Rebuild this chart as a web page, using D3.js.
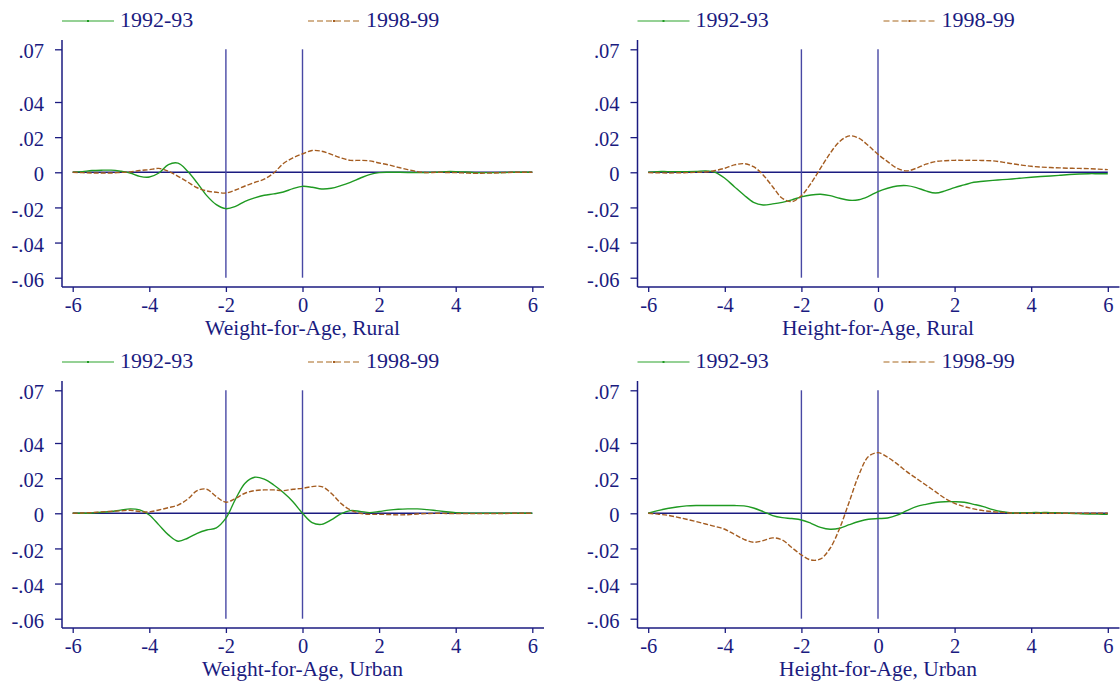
<!DOCTYPE html>
<html>
<head>
<meta charset="utf-8">
<script src="https://cdn.jsdelivr.net/npm/d3@7"></script>
<style>
  body { margin: 0; background: #fff; }
  svg { display: block; }
  text { font-family: "Liberation Serif", "DejaVu Serif", serif; fill: #1b1b80; }
</style>
</head>
<body>
<svg id="chart" width="1120" height="685"></svg>
<script>
// z-score grid (x values read at every quarter unit)
const zScores = [-6, -5.75, -5.5, -5.25, -5, -4.75, -4.5, -4.25, -4, -3.75, -3.5, -3.25, -3,
  -2.75, -2.5, -2.25, -2, -1.75, -1.5, -1.25, -1, -0.75, -0.5, -0.25, 0, 0.25, 0.5, 0.75,
  1, 1.25, 1.5, 1.75, 2, 2.25, 2.5, 2.75, 3, 3.25, 3.5, 3.75, 4, 4.25, 4.5, 4.75, 5, 5.25,
  5.5, 5.75, 6];

const seriesNames = ['1992-93', '1998-99'];
const panelTitles = ['Weight-for-Age, Rural', 'Height-for-Age, Rural',
                     'Weight-for-Age, Urban', 'Height-for-Age, Urban'];

const xTicks = [-6, -4, -2, 0, 2, 4, 6];
const yTicks = [-0.06, -0.04, -0.02, 0, 0.02, 0.04, 0.07];
const cutoffs = [-2, 0];

// Weight-for-Age, Rural
const wfaRural92 = [0, 0.0004, 0.001, 0.0012, 0.0012, 0.0006, -0.0004, -0.0023, -0.0027, -0.0004,
  0.0044, 0.0052, 0.0006, -0.006, -0.0133, -0.0184, -0.0207, -0.0194, -0.0165, -0.0146, -0.0131,
  -0.0123, -0.0112, -0.0093, -0.008, -0.0085, -0.0095, -0.0091, -0.0076, -0.0057, -0.0034,
  -0.0013, -0.0002, 0, 0, -0.0001, -0.0002, -0.0001, 0, 0.0004, 0.0004, 0.0002, -0.0002,
  -0.0002, -0.0002, -0.0001, 0, 0, 0];
const wfaRural98 = [0, -0.0002, -0.0004, -0.0004, -0.0004, -0.0001, 0.0002, 0.001, 0.0015, 0.0022,
  0.0006, -0.0023, -0.0055, -0.0088, -0.0106, -0.0114, -0.0118, -0.0101, -0.0078, -0.0058,
  -0.0039, -0.0004, 0.005, 0.0082, 0.0105, 0.0124, 0.012, 0.0102, 0.0082, 0.0068, 0.0068,
  0.0065, 0.0053, 0.0042, 0.0028, 0.0015, 0.0004, -0.0002, 0, -0.0001, -0.0002, -0.0004,
  -0.0006, -0.0005, -0.0004, -0.0002, 0, 0, 0];

// Height-for-Age, Rural
const hfaRural92 = [0, 0.0004, 0.0004, 0.0004, 0.0004, 0.0005, 0.0008, 0, -0.0034, -0.0082,
  -0.0129, -0.0171, -0.0186, -0.018, -0.0171, -0.0157, -0.014, -0.0129, -0.0125, -0.0133,
  -0.0148, -0.0159, -0.0156, -0.0137, -0.011, -0.0091, -0.0078, -0.0076, -0.0087, -0.0106,
  -0.0118, -0.0106, -0.0087, -0.0072, -0.0057, -0.0051, -0.0046, -0.0042, -0.0038, -0.0033,
  -0.0028, -0.0024, -0.0021, -0.0017, -0.0013, -0.001, -0.0008, -0.0008, -0.0008];
const hfaRural98 = [-0.0002, -0.0003, -0.0004, -0.0003, -0.0002, 0, 0.0002, 0.001, 0.0023, 0.0042,
  0.0049, 0.0032, -0.0015, -0.0082, -0.0148, -0.0167, -0.0133, -0.0063, 0.0023, 0.0108, 0.0175,
  0.0207, 0.0194, 0.0152, 0.0102, 0.0061, 0.0023, 0.0008, 0.0023, 0.0046, 0.0061, 0.0066,
  0.0068, 0.0068, 0.0068, 0.0067, 0.0065, 0.0058, 0.0049, 0.0041, 0.0034, 0.003, 0.0027,
  0.0025, 0.0023, 0.0022, 0.0021, 0.0018, 0.0015];

// Weight-for-Age, Urban
const wfaUrban92 = [0, 0, 0.0002, 0.0006, 0.001, 0.0018, 0.0025, 0.0019, -0.001, -0.0066, -0.0123,
  -0.0159, -0.0142, -0.0114, -0.0095, -0.0083, -0.0028, 0.008, 0.0171, 0.0205, 0.0194, 0.0161,
  0.0118, 0.0066, 0, -0.0053, -0.0063, -0.0038, -0.0004, 0.0015, 0.0011, 0.0004, 0.001, 0.0018,
  0.0023, 0.0025, 0.0025, 0.0021, 0.0015, 0.0009, 0.0004, 0.0001, 0, 0, 0, 0, 0, 0, 0];
const wfaUrban98 = [0, 0.0002, 0.0004, 0.0008, 0.0011, 0.0014, 0.0017, 0.001, 0.0008, 0.0019,
  0.0032, 0.0047, 0.008, 0.0129, 0.0137, 0.0095, 0.0063, 0.0085, 0.0114, 0.0129, 0.0133, 0.0133,
  0.0129, 0.0137, 0.0142, 0.0152, 0.0152, 0.0114, 0.0057, 0.0019, 0, -0.0006, -0.0006, -0.0007,
  -0.0009, -0.0008, -0.0004, -0.0002, 0, -0.0001, -0.0002, -0.0002, -0.0002, -0.0002, -0.0002,
  -0.0001, 0, 0, 0];

// Height-for-Age, Urban
const hfaUrban92 = [0, 0.0015, 0.0027, 0.0036, 0.0042, 0.0044, 0.0044, 0.0044, 0.0044, 0.0044,
  0.0042, 0.003, 0.001, -0.0013, -0.0025, -0.003, -0.0038, -0.0057, -0.008, -0.0091, -0.0085,
  -0.0065, -0.0047, -0.0034, -0.003, -0.0027, -0.0011, 0.0015, 0.0038, 0.0051, 0.0061, 0.0066,
  0.0066, 0.0063, 0.0051, 0.0038, 0.0021, 0.0009, 0.0002, 0.0003, 0.0004, 0.0004, 0.0004,
  0.0002, 0, -0.0002, -0.0004, -0.0005, -0.0006];
const hfaUrban98 = [0, -0.0005, -0.0011, -0.0022, -0.0034, -0.0047, -0.0061, -0.0075, -0.0091,
  -0.012, -0.0148, -0.0165, -0.0156, -0.014, -0.0152, -0.0195, -0.0237, -0.0266, -0.026, -0.0199,
  -0.0085, 0.0066, 0.0218, 0.0323, 0.0345, 0.0319, 0.0281, 0.0237, 0.0199, 0.0161, 0.0123,
  0.0085, 0.0057, 0.0038, 0.0025, 0.0015, 0.0009, 0.0005, 0.0002, 0, 0, 0, 0, 0, 0, 0, 0, 0, 0];

const panelSeries = [
  [wfaRural92, wfaRural98],
  [hfaRural92, hfaRural98],
  [wfaUrban92, wfaUrban98],
  [hfaUrban92, hfaUrban98]
];

const navy = '#1b1b80';
const green = '#1f9a22';
const brown = '#a45c20';
const offsets = [[0, 0], [575.5, 0], [0, 341], [575.5, 341]];

const svg = d3.select('#chart');

const x = d3.scaleLinear().domain([-6, 6]).range([72.7, 532.3]);
const y = d3.scaleLinear().domain([-0.06, 0.07]).range([277.7, 49.3]);

// Stata style labels: plain hyphen, no leading zero
const fmtY = d => d === 0 ? '0' : d3.format('.2f')(d).replace('0.', '.').replace('\u2212', '-');
const fmtX = d => String(d);

const line = d3.line()
  .x((d, i) => x(zScores[i]))
  .y(d => y(d))
  .curve(d3.curveCatmullRom.alpha(0.5));

panelTitles.forEach((title, p) => {
  const g = svg.append('g')
    .attr('transform', `translate(${offsets[p][0]},${offsets[p][1]})`);

  // legend
  const legend = [
    { x0: 62, col: '#72c272', dot: green, dash: null },
    { x0: 308, col: '#c59a6a', dot: brown, dash: '6,3' }
  ];
  legend.forEach((l, i) => {
    g.append('line')
      .attr('x1', l.x0).attr('x2', l.x0 + 52)
      .attr('y1', 21).attr('y2', 21)
      .attr('stroke', l.col).attr('stroke-width', 1.6)
      .attr('stroke-dasharray', l.dash);
    g.append('rect')
      .attr('x', l.x0 + 25).attr('y', 20)
      .attr('width', 2).attr('height', 2)
      .attr('fill', l.dot);
    g.append('text')
      .attr('x', l.x0 + 58).attr('y', 27)
      .style('font-size', '22px')
      .text(seriesNames[i]);
  });

  // y axis
  const yAxis = g.append('g')
    .attr('transform', 'translate(62,0)')
    .call(d3.axisLeft(y).tickValues(yTicks).tickFormat(fmtY).tickSize(7).tickPadding(11).tickSizeOuter(0));
  yAxis.select('.domain').remove();
  yAxis.selectAll('line').attr('stroke', navy).attr('stroke-width', 1.3);
  yAxis.selectAll('text')
    .attr('dy', '0.42em')
    .style('font-size', '20.5px')
    .style('font-family', '"Liberation Serif", serif')
    .attr('fill', navy);
  g.append('line')
    .attr('x1', 62).attr('x2', 62).attr('y1', 40).attr('y2', 287)
    .attr('stroke', navy).attr('stroke-width', 1.5);

  // x axis
  const xAxis = g.append('g')
    .attr('transform', 'translate(0,287)')
    .call(d3.axisBottom(x).tickValues(xTicks).tickFormat(fmtX).tickSize(5).tickPadding(5).tickSizeOuter(0));
  xAxis.select('.domain').remove();
  xAxis.selectAll('line').attr('stroke', navy).attr('stroke-width', 1.3);
  xAxis.selectAll('text')
    .style('font-size', '20.5px')
    .style('font-family', '"Liberation Serif", serif')
    .attr('fill', navy);
  g.append('line')
    .attr('x1', 62).attr('x2', 544).attr('y1', 287).attr('y2', 287)
    .attr('stroke', navy).attr('stroke-width', 1.5);

  g.append('text')
    .attr('x', x(0)).attr('y', 335)
    .attr('text-anchor', 'middle')
    .style('font-size', '21.5px')
    .text(title);

  // reference lines
  g.append('line')
    .attr('x1', x(-6)).attr('x2', x(6)).attr('y1', y(0)).attr('y2', y(0))
    .attr('stroke', navy).attr('stroke-width', 1.4);
  g.selectAll('.cut')
    .data(cutoffs)
    .enter().append('line')
    .attr('class', 'cut')
    .attr('x1', d => x(d)).attr('x2', d => x(d))
    .attr('y1', y(0.07)).attr('y2', y(-0.06))
    .attr('stroke', '#4848a4').attr('stroke-width', 1.4);

  // density differences
  g.append('path')
    .datum(panelSeries[p][0])
    .attr('d', line)
    .attr('fill', 'none')
    .attr('stroke', green)
    .attr('stroke-width', 1.4);
  g.append('path')
    .datum(panelSeries[p][1])
    .attr('d', line)
    .attr('fill', 'none')
    .attr('stroke', brown)
    .attr('stroke-width', 1.4)
    .attr('stroke-dasharray', '5,2');
});
</script>
</body>
</html>
